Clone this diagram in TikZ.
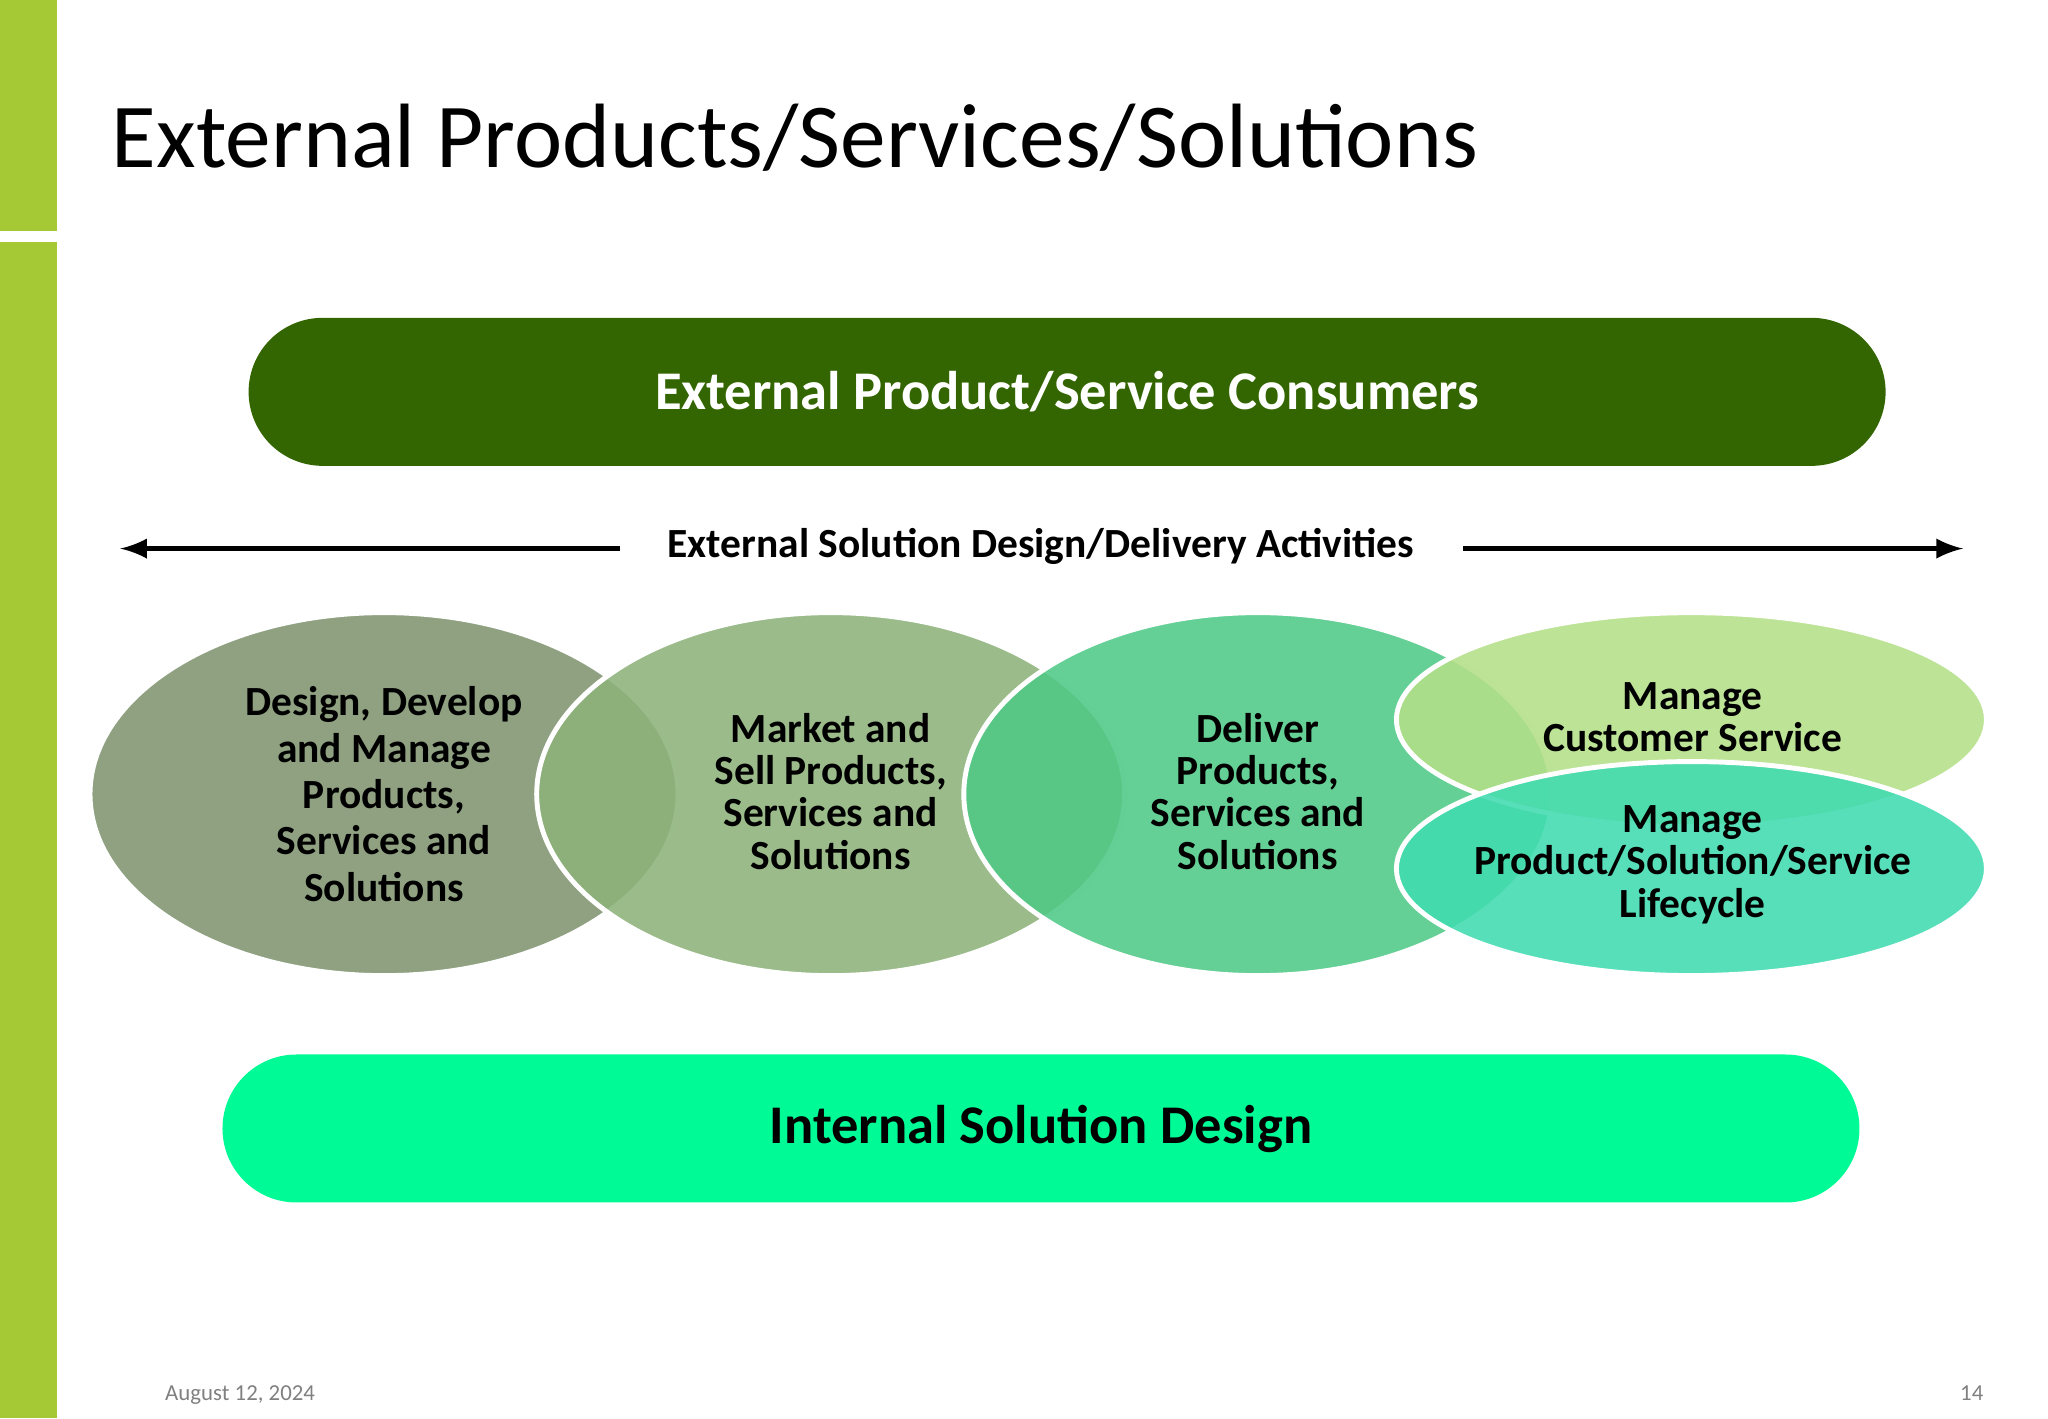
\documentclass[tikz,border=0pt]{standalone}
\usepackage{fontspec}
\setmainfont{Carlito}
\usetikzlibrary{shapes.geometric}
\definecolor{barg}{HTML}{A5C935}
\definecolor{topg}{HTML}{336600}
\definecolor{botg}{HTML}{00FA96}
\definecolor{eA}{HTML}{7F9470}
\definecolor{eB}{HTML}{8DB27A}
\definecolor{eC}{HTML}{4FC986}
\definecolor{eD}{HTML}{B3DF88}
\definecolor{eE}{HTML}{40DBB0}
\begin{document}
\begin{tikzpicture}[x={(0.01306cm,0)},y={(0,-0.01306cm)},
  banner/.style={rounded corners=0.74cm,minimum width=16.37cm,minimum height=1.48cm,font=\fontsize{15.5}{18}\selectfont\bfseries},
  blob/.style={ellipse,draw=white,line width=1.4pt,fill opacity=0.88,text opacity=1,align=center,
    font=\fontsize{11.8}{13.2}\selectfont\bfseries,inner sep=0pt},
  big/.style={blob,minimum width=5.88cm,minimum height=3.63cm},
  flat/.style={blob,minimum width=5.9cm,minimum height=2.14cm}]
\useasboundingbox (0,0) rectangle (1568,1086);
\fill[barg] (0,0) rectangle (44,177);
\fill[barg] (0,185) rectangle (44,1086);
\node[anchor=base west,inner sep=0pt,font=\fontsize{26}{30}\selectfont] (title) at (85,128) {External Products/Services/Solutions};
\node[banner,fill=topg,text=white] (top) at (817,300) {External Product/Service Consumers};
\node[font=\fontsize{11.8}{14}\selectfont\bfseries] (act) at (797,418) {External Solution Design/Delivery Activities};
\coordinate (la) at (92,420);
\coordinate (lb) at (475,420);
\coordinate (ra) at (1120,420);
\coordinate (rb) at (1503,420);
\draw[line width=1.6pt,-latex] (lb) -- (la);
\draw[line width=1.6pt,-latex] (ra) -- (rb);
\node[big,fill=eA] (d1) at (294,608) {};
\node[big,fill=eB] (d2) at (636,608) {};
\node[big,fill=eC] (d3) at (963,608) {};
\node[flat,fill=eD] (d4) at (1295,551) {};
\node[flat,fill=eE] (d5) at (1295,665) {};
\node[align=center,font=\fontsize{11.8}{13.2}\selectfont\bfseries] (t1) at (294,608) {Design, Develop\\and Manage\\Products,\\Services and\\Solutions};
\node[align=center,font=\fontsize{11.8}{12}\selectfont\bfseries] (t2) at (636,606) {Market and\\Sell Products,\\Services and\\Solutions};
\node[align=center,font=\fontsize{11.8}{12}\selectfont\bfseries] (t3) at (963,606) {Deliver\\Products,\\Services and\\Solutions};
\node[align=center,font=\fontsize{11.8}{12}\selectfont\bfseries] (t4) at (1296,549) {Manage\\Customer Service};
\node[align=center,font=\fontsize{11.8}{12}\selectfont\bfseries] (t5) at (1296,662) {Manage\\Product/Solution/Service\\Lifecycle};
\node[banner,fill=botg] (bot) at (797,864) {Internal Solution Design};
\node[anchor=base west,text=gray,font=\fontsize{6.5}{8}\selectfont] (date) at (117,1072) {August 12, 2024};
\node[anchor=base east,text=gray,font=\fontsize{6.5}{8}\selectfont] (pg) at (1528,1072) {14};
\end{tikzpicture}
\end{document}
